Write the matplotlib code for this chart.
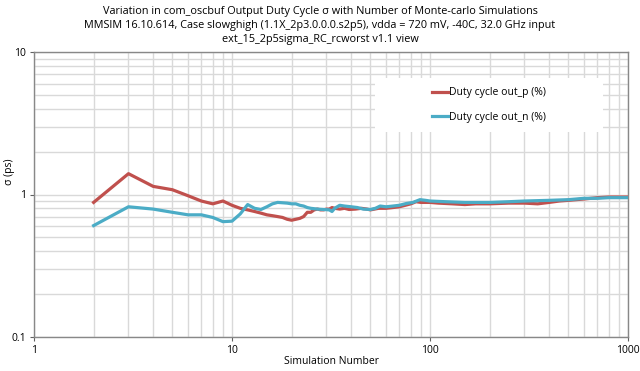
import matplotlib
matplotlib.use('Agg')
import matplotlib.pyplot as plt
from matplotlib.patches import Rectangle
from matplotlib.ticker import FixedLocator, NullFormatter

plt.rcParams['font.family'] = ['Open Sans', 'DejaVu Sans']

# values
sim_p = [2, 3, 4, 5, 6, 7, 8, 9, 10, 11, 12, 13, 14, 15, 16, 17, 18, 19, 20,
         21, 22, 23, 24, 25, 26, 27, 28, 29, 30, 31, 32, 33, 35, 37, 39, 42,
         45, 48, 50, 55, 60, 65, 70, 75, 80, 85, 90, 100, 110, 130, 150, 170,
         200, 250, 300, 350, 400, 450, 500, 600, 700, 800, 900, 1000]
duty_p = [0.88, 1.40, 1.14, 1.08, 0.98, 0.90, 0.86, 0.90, 0.84, 0.80, 0.78,
          0.76, 0.74, 0.72, 0.71, 0.70, 0.69, 0.67, 0.66, 0.67, 0.68, 0.70,
          0.75, 0.75, 0.78, 0.79, 0.78, 0.78, 0.79, 0.79, 0.81, 0.80, 0.79,
          0.80, 0.785, 0.79, 0.80, 0.79, 0.78, 0.80, 0.80, 0.81, 0.82, 0.84,
          0.86, 0.89, 0.88, 0.88, 0.87, 0.86, 0.85, 0.86, 0.86, 0.87, 0.87,
          0.86, 0.88, 0.90, 0.91, 0.93, 0.95, 0.96, 0.96, 0.96]

sim_n = [2, 3, 4, 5, 6, 7, 8, 9, 10, 11, 12, 13, 14, 15, 16, 17, 18, 19, 20,
         21, 22, 23, 24, 25, 27, 29, 31, 32, 33, 35, 37, 40, 43, 46, 50, 53,
         56, 60, 65, 70, 76, 82, 89, 95, 100, 120, 150, 200, 250, 300, 400,
         500, 600, 700, 800, 900, 1000]
duty_n = [0.605, 0.82, 0.79, 0.75, 0.72, 0.72, 0.69, 0.645, 0.65, 0.73, 0.85,
          0.80, 0.785, 0.82, 0.86, 0.88, 0.875, 0.87, 0.86, 0.86, 0.84, 0.83,
          0.81, 0.80, 0.79, 0.785, 0.78, 0.76, 0.80, 0.84, 0.83, 0.82, 0.81,
          0.79, 0.785, 0.80, 0.83, 0.82, 0.83, 0.84, 0.865, 0.88, 0.92, 0.91,
          0.90, 0.89, 0.88, 0.88, 0.89, 0.90, 0.91, 0.92, 0.94, 0.94, 0.95,
          0.95, 0.95]

title = ("Variation in com_oscbuf Output Duty Cycle \u03c3 with Number of Monte-carlo Simulations\n"
         "MMSIM 16.10.614, Case slowghigh (1.1X_2p3.0.0.0.s2p5), vdda = 720 mV, -40C, 32.0 GHz input\n"
         "ext_15_2p5sigma_RC_rcworst v1.1 view")

fig = plt.figure(figsize=(6.4, 3.71), dpi=100)
ax = fig.add_axes([34 / 640, 34 / 371, 594 / 640, 285 / 371])

ax.set_xscale('log')
ax.set_yscale('log')
ax.set_xlim(1, 1000)
ax.set_ylim(0.1, 10)

ax.plot(sim_p, duty_p, color='#C0504D', lw=2.3, label='Duty cycle out_p (%)', zorder=3)
ax.plot(sim_n, duty_n, color='#4BACC6', lw=2.3, label='Duty cycle out_n (%)', zorder=4)

ax.xaxis.set_major_locator(FixedLocator([1, 10, 100, 1000]))
ax.yaxis.set_major_locator(FixedLocator([0.1, 1, 10]))
ax.set_xticklabels(['1', '10', '100', '1000'])
ax.set_yticklabels(['0.1', '1', '10'])
ax.xaxis.set_minor_formatter(NullFormatter())
ax.yaxis.set_minor_formatter(NullFormatter())
ax.tick_params(which='major', length=3, labelsize=7.5, color='#606060', pad=3)
ax.tick_params(which='minor', length=0)
ax.grid(True, which='both', color='#d9d9d9', lw=1)
ax.set_axisbelow(True)
for s in ax.spines.values():
    s.set_color('#888888')
    s.set_linewidth(1)

ax.set_xlabel('Simulation Number', fontsize=7.5, labelpad=0)
ax.set_ylabel('\u03c3 (ps)', fontsize=7.5)
ax.yaxis.set_label_coords(-0.032, 0.58)

# white legend box
ax.add_patch(Rectangle((0.574, 0.719), 0.384, 0.19, transform=ax.transAxes,
                       facecolor='white', edgecolor='none', zorder=5))
leg = ax.legend(loc='center', bbox_to_anchor=(0.766, 0.814), frameon=False,
                fontsize=7.5, handlelength=1.5, handletextpad=0.1, labelspacing=1.3)
leg.set_zorder(6)

fig.text(0.5, 0.985, title, ha='center', va='top', fontsize=7.8, linespacing=1.4)

fig.savefig('out.png', dpi=100)
